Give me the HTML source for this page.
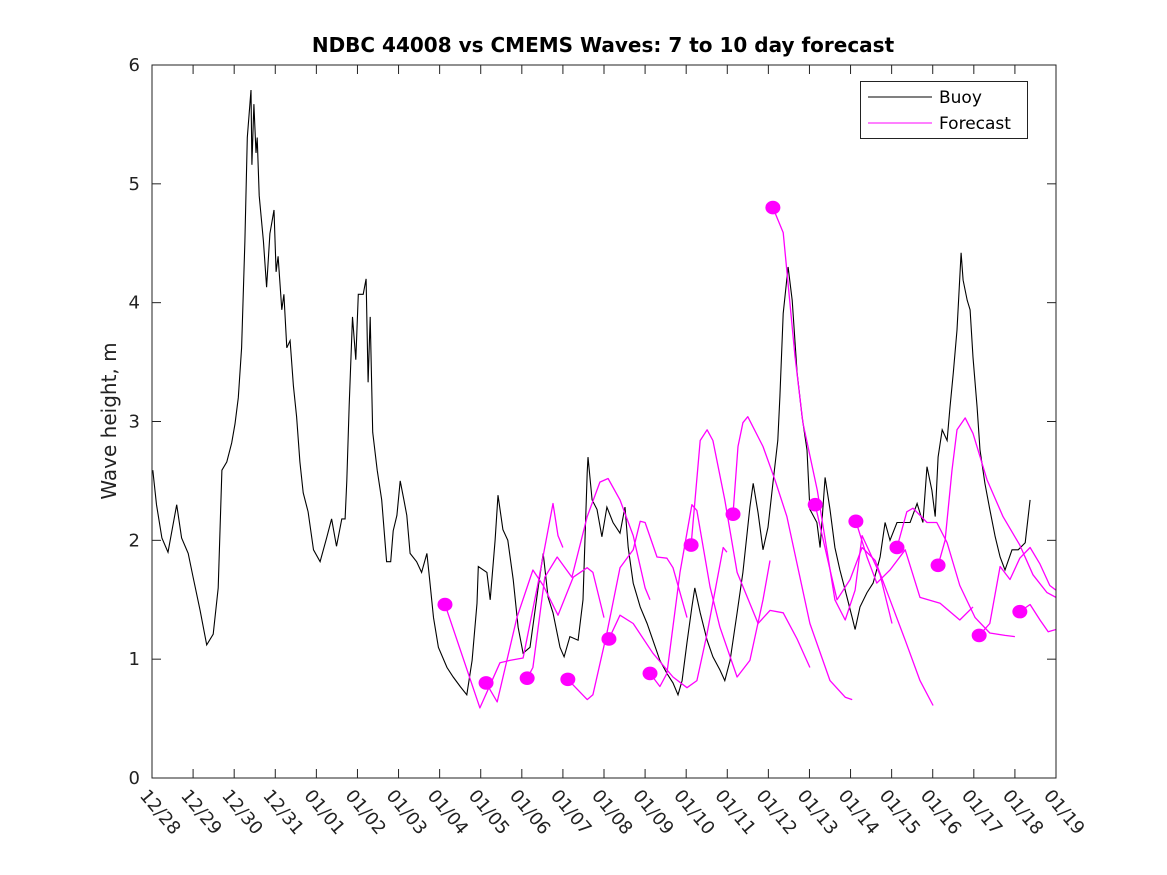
<!DOCTYPE html>
<html><head><meta charset="utf-8"><style>
html,body{margin:0;padding:0;background:#fff;}
svg{display:block;font-family:"DejaVu Sans","Liberation Sans",sans-serif;}
</style></head><body>
<svg id="chart" width="1167" height="875" viewBox="0 0 1167 875">
<defs><clipPath id="plotclip"><rect x="152" y="65" width="904" height="713"/></clipPath></defs>
<rect x="0" y="0" width="1167" height="875" fill="#fff"/>
<text x="603" y="52" text-anchor="middle" font-size="20" font-weight="bold" fill="#000">NDBC 44008 vs CMEMS Waves: 7 to 10 day forecast</text>
<text transform="translate(116,421) rotate(-90)" text-anchor="middle" font-size="20" fill="#222">Wave height, m</text>
<g id="axes"></g>
<g id="series" clip-path="url(#plotclip)"></g>
<rect x="152" y="65" width="904" height="713" fill="none" stroke="#222" stroke-width="1"/>
<g>
<rect x="860.5" y="81.5" width="167" height="57" fill="#fff" stroke="#222" stroke-width="1"/>
<line x1="868" y1="97" x2="932" y2="97" stroke="#000" stroke-width="1"/>
<text x="939" y="103" font-size="17" fill="#000">Buoy</text>
<line x1="868" y1="123" x2="932" y2="123" stroke="#ff00ff" stroke-width="1"/>
<text x="939" y="129" font-size="17" fill="#000">Forecast</text>
</g>
</svg>
<script>
const xTickLabels = ["12/28","12/29","12/30","12/31","01/01","01/02","01/03","01/04","01/05","01/06","01/07","01/08","01/09","01/10","01/11","01/12","01/13","01/14","01/15","01/16","01/17","01/18","01/19"];
const yTicks = [0,1,2,3,4,5,6];
const buoyDays = [0.02,0.11,0.24,0.39,0.6,0.72,0.88,1.0,1.17,1.33,1.49,1.61,1.70,1.82,1.94,2.02,2.10,2.18,2.26,2.32,2.41,2.43,2.48,2.53,2.56,2.61,2.71,2.79,2.87,2.97,3.02,3.07,3.16,3.21,3.28,3.36,3.44,3.52,3.60,3.68,3.80,3.93,4.09,4.25,4.37,4.49,4.62,4.70,4.74,4.80,4.88,4.96,5.02,5.14,5.21,5.26,5.31,5.37,5.48,5.59,5.71,5.81,5.87,5.96,6.04,6.13,6.2,6.28,6.44,6.56,6.69,6.75,6.85,6.97,7.18,7.33,7.50,7.66,7.79,7.91,7.94,8.15,8.23,8.35,8.42,8.54,8.66,8.79,8.91,9.03,9.2,9.4,9.52,9.64,9.76,9.93,10.03,10.17,10.37,10.49,10.59,10.61,10.71,10.83,10.95,11.07,11.22,11.39,11.51,11.59,11.71,11.88,12.05,12.19,12.36,12.53,12.68,12.8,12.9,13.02,13.14,13.21,13.34,13.51,13.65,13.82,13.94,14.07,14.24,14.38,14.55,14.63,14.75,14.87,14.99,15.11,15.23,15.28,15.36,15.48,15.58,15.70,15.82,15.94,16.01,16.18,16.26,16.38,16.50,16.62,16.74,16.87,17.04,17.11,17.23,17.40,17.55,17.72,17.84,17.96,18.13,18.28,18.45,18.62,18.76,18.86,18.98,19.06,19.13,19.23,19.35,19.42,19.50,19.59,19.69,19.74,19.84,19.91,19.98,20.08,20.15,20.27,20.39,20.52,20.64,20.76,20.93,21.08,21.25,21.37];
const buoyVals = [2.59,2.30,2.02,1.90,2.30,2.02,1.89,1.69,1.41,1.12,1.21,1.60,2.59,2.66,2.82,2.98,3.20,3.62,4.52,5.39,5.79,5.16,5.67,5.26,5.39,4.90,4.52,4.13,4.58,4.78,4.26,4.39,3.94,4.07,3.62,3.68,3.30,3.04,2.66,2.40,2.24,1.92,1.82,2.02,2.18,1.95,2.18,2.18,2.50,3.14,3.88,3.52,4.07,4.07,4.20,3.33,3.88,2.91,2.59,2.34,1.82,1.82,2.08,2.21,2.50,2.34,2.21,1.89,1.82,1.73,1.89,1.69,1.35,1.10,0.93,0.85,0.77,0.70,0.99,1.47,1.78,1.73,1.50,2.00,2.38,2.09,2.00,1.67,1.27,1.05,1.10,1.61,1.89,1.52,1.39,1.10,1.02,1.19,1.16,1.50,2.57,2.70,2.34,2.26,2.03,2.28,2.15,2.06,2.28,1.94,1.64,1.44,1.30,1.16,0.99,0.88,0.80,0.70,0.82,1.14,1.44,1.60,1.39,1.16,1.02,0.91,0.82,0.99,1.39,1.73,2.28,2.48,2.23,1.92,2.11,2.48,2.84,3.21,3.91,4.30,4.02,3.41,3.04,2.76,2.26,2.15,1.94,2.53,2.26,1.94,1.75,1.58,1.35,1.25,1.44,1.56,1.64,1.86,2.15,2.00,2.15,2.15,2.15,2.31,2.15,2.62,2.42,2.20,2.70,2.93,2.84,3.12,3.41,3.77,4.42,4.19,4.02,3.94,3.54,3.12,2.76,2.48,2.26,2.03,1.86,1.75,1.92,1.92,1.98,2.34];
const dotDays = [7.13,8.13,9.13,10.12,11.12,12.12,13.12,14.14,15.11,16.14,17.13,18.13,19.13,20.13,21.12];
const dotVals = [1.46,0.80,0.84,0.83,1.17,0.88,1.96,2.22,4.80,2.30,2.16,1.94,1.79,1.20,1.40];
const fc1Days = [7.13,7.98,8.47,8.71,9.03,9.4,9.76,9.88,10.00];
const fc1Vals = [1.46,0.59,0.97,0.99,1.01,1.65,2.31,2.04,1.94];
const fc2Days = [8.13,8.40,8.88,9.27,9.52,9.88,10.25,10.59,10.73,11.00];
const fc2Vals = [0.80,0.64,1.35,1.75,1.62,1.37,1.69,1.77,1.73,1.35];
const fc3Days = [9.13,9.27,9.56,9.86,10.22,10.59,10.90,11.10,11.39,11.71,12.00,12.12];
const fc3Vals = [0.84,0.93,1.69,1.86,1.69,2.20,2.49,2.52,2.34,2.04,1.60,1.50];
const fc4Days = [10.12,10.59,10.73,11.07,11.39,11.71,11.88,12.00,12.29,12.53,12.68,13.02];
const fc4Vals = [0.83,0.66,0.70,1.22,1.77,1.92,2.16,2.15,1.86,1.85,1.77,1.35];
const fc5Days = [11.12,11.39,11.71,12.19,12.68,13.02,13.26,13.50,13.90,13.99];
const fc5Vals = [1.17,1.37,1.30,1.05,0.85,0.76,0.82,1.20,1.94,1.90];
const fc6Days = [12.12,12.36,12.53,12.85,13.14,13.26,13.58,13.82,14.24,14.55,14.87,15.04];
const fc6Vals = [0.88,0.77,0.88,1.73,2.30,2.25,1.61,1.27,0.85,0.99,1.50,1.83];
const fc7Days = [13.12,13.34,13.51,13.65,13.94,14.24,14.75,15.04,15.36,15.70,16.01];
const fc7Vals = [1.96,2.84,2.93,2.84,2.34,1.73,1.30,1.41,1.39,1.17,0.93];
const fc8Days = [14.14,14.26,14.38,14.50,14.87,15.16,15.45,16.01,16.50,16.87,17.04];
const fc8Vals = [2.22,2.79,2.99,3.04,2.79,2.51,2.20,1.30,0.82,0.68,0.66];
const fc9Days = [15.11,15.36,15.65,15.84,16.19,16.62,16.87,17.11,17.28,17.72,18.01];
const fc9Vals = [4.80,4.59,3.54,2.99,2.42,1.50,1.33,1.58,2.04,1.71,1.30];
const fc10Days = [16.14,16.43,16.67,16.99,17.28,17.60,17.96,18.33,18.69,19.01];
const fc10Vals = [2.30,1.86,1.50,1.67,1.94,1.83,1.50,1.16,0.82,0.61];
const fc11Days = [17.13,17.40,17.64,17.96,18.33,18.69,19.18,19.66,19.98];
const fc11Vals = [2.16,1.86,1.64,1.75,1.92,1.52,1.47,1.33,1.44];
const fc12Days = [18.13,18.37,18.52,18.86,19.10,19.35,19.66,20.03,20.39,20.76,21.00];
const fc12Vals = [1.94,2.24,2.27,2.15,2.15,1.98,1.62,1.35,1.22,1.20,1.19];
const fc13Days = [19.13,19.30,19.47,19.59,19.79,19.98,20.32,20.71,21.12,21.44,21.78,22.00];
const fc13Vals = [1.79,2.00,2.59,2.93,3.03,2.90,2.51,2.20,1.96,1.71,1.56,1.52];
const fc14Days = [20.13,20.39,20.64,20.88,21.12,21.37,21.61,21.85,22.00];
const fc14Vals = [1.20,1.30,1.78,1.67,1.85,1.94,1.80,1.62,1.58];
const fc15Days = [21.12,21.37,21.61,21.81,22.00];
const fc15Vals = [1.40,1.46,1.33,1.23,1.25];

const fcDaysList = [fc1Days,fc2Days,fc3Days,fc4Days,fc5Days,fc6Days,fc7Days,fc8Days,fc9Days,fc10Days,fc11Days,fc12Days,fc13Days,fc14Days,fc15Days];
const fcValsList = [fc1Vals,fc2Vals,fc3Vals,fc4Vals,fc5Vals,fc6Vals,fc7Vals,fc8Vals,fc9Vals,fc10Vals,fc11Vals,fc12Vals,fc13Vals,fc14Vals,fc15Vals];

const NS = "http://www.w3.org/2000/svg";
const X0 = 152, X1 = 1056, Y0 = 778, Y1 = 65, DMAX = 22, VMAX = 6;
function xs(d){ return X0 + d * (X1 - X0) / DMAX; }
function ys(v){ return Y0 - v * (Y0 - Y1) / VMAX; }
function mk(tag, attrs, parent){ const e = document.createElementNS(NS, tag); for (const k in attrs) e.setAttribute(k, attrs[k]); parent.appendChild(e); return e; }

const axes = document.getElementById('axes');
const series = document.getElementById('series');

xTickLabels.forEach((lab, i) => {
  const x = xs(i);
  const t1 = mk('line', {x1:x, y1:Y0, x2:x, y2:Y0-9, stroke:'#222', 'stroke-width':1}, axes);
  
  
  const t2 = mk('line', {x1:x, y1:Y1, x2:x, y2:Y1+9, stroke:'#222', 'stroke-width':1}, axes);
  
  
  const tx = mk('text', {transform:'translate(' + (x - 13) + ',' + (Y0 + 18) + ') rotate(50)', 'font-size':18, fill:'#222'}, axes);
  tx.textContent = lab;
  
  
});
yTicks.forEach(v => {
  const y = ys(v);
  const t1 = mk('line', {x1:X0, y1:y, x2:X0+9, y2:y, stroke:'#222', 'stroke-width':1}, axes);
  
  
  const t2 = mk('line', {x1:X1, y1:y, x2:X1-9, y2:y, stroke:'#222', 'stroke-width':1}, axes);
  
  
  const tx = mk('text', {x:X0-12, y:y+6, 'text-anchor':'end', 'font-size':18, fill:'#222'}, axes);
  tx.textContent = String(v);
  
  
});

const bp = buoyDays.map((d, i) => xs(d).toFixed(1) + ',' + ys(buoyVals[i]).toFixed(1)).join(' ');
const buoy = mk('polyline', {points:bp, fill:'none', stroke:'#000', 'stroke-width':1.1, 'stroke-linejoin':'miter'}, series);



fcDaysList.forEach((days, k) => {
  const vals = fcValsList[k];
  const pts = days.map((d, i) => xs(d).toFixed(1) + ',' + ys(vals[i]).toFixed(1)).join(' ');
  const pl = mk('polyline', {points:pts, fill:'none', stroke:'#ff00ff', 'stroke-width':1.3, 'stroke-linejoin':'round'}, series);
  
  
});

dotDays.forEach((d, i) => {
  const c = mk('ellipse', {cx:xs(d), cy:ys(dotVals[i]), rx:7.5, ry:6.8, fill:'#ff00ff'}, series);
  
  
});
</script>
</body></html>
